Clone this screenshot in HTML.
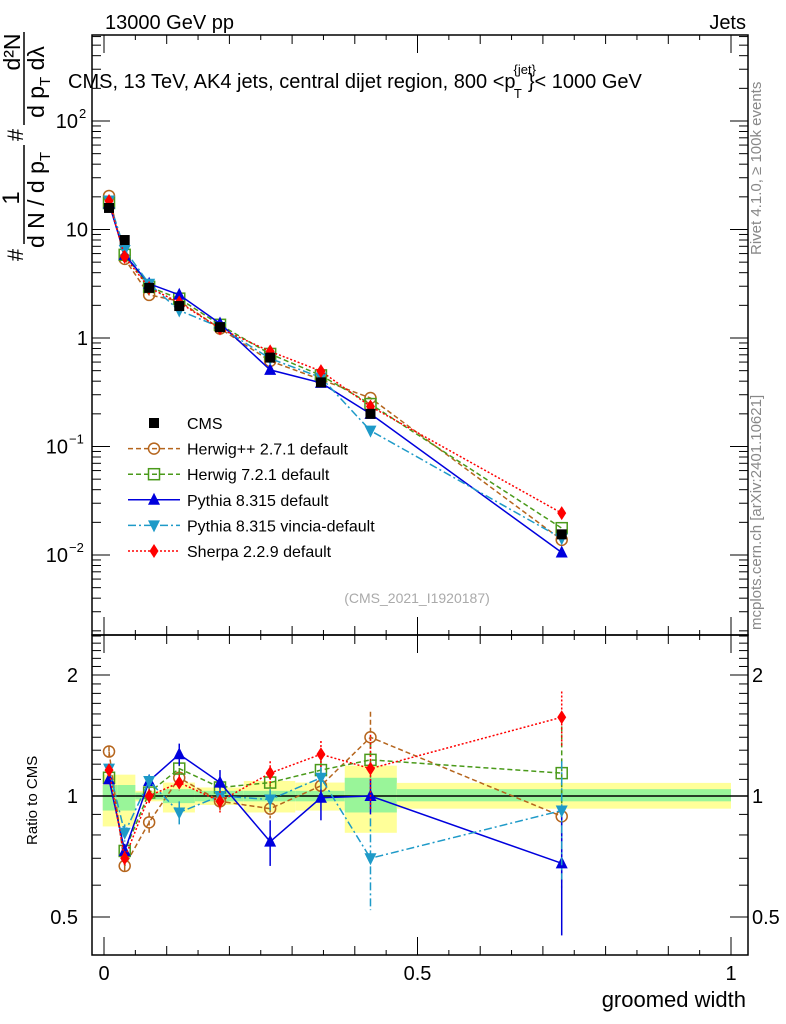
<!DOCTYPE html>
<html><head><meta charset="utf-8">
<style>
html,body{margin:0;padding:0;background:#fff;}
svg{display:block;font-family:"Liberation Sans","DejaVu Sans",sans-serif;}
</style></head>
<body>
<svg id="chart" width="786" height="1024" viewBox="0 0 786 1024" xmlns="http://www.w3.org/2000/svg">
<text x="105" y="29" font-size="20">13000 GeV pp</text>
<text x="746" y="29" font-size="20" text-anchor="end">Jets</text>
<text x="68" y="88" font-size="20">CMS, 13 TeV, AK4 jets, central dijet region, 800 &lt;p<tspan font-size="13" dy="-14" dx="-2">{jet}</tspan><tspan font-size="13" dy="24" dx="-22">T</tspan><tspan dy="-10" dx="6">}&lt; 1000 GeV</tspan></text>
<text transform="translate(761,255) rotate(-90)" font-size="15" fill="#888">Rivet 4.1.0, ≥ 100k events</text>
<text transform="translate(761,630) rotate(-90)" font-size="15" fill="#888">mcplots.cern.ch [arXiv:2401.10621]</text>
<text x="417" y="603" font-size="14" fill="#aaa" text-anchor="middle">(CMS_2021_I1920187)</text>
<g>
  <text transform="translate(23,255) rotate(-90)" font-size="22" text-anchor="middle">#</text>
  <text transform="translate(19,198) rotate(-90)" font-size="24" text-anchor="middle">1</text>
  <line x1="24" y1="145" x2="24" y2="244" stroke="#000" stroke-width="1.5"/>
  <text transform="translate(44,200) rotate(-90)" font-size="23" text-anchor="middle">d N / d p<tspan font-size="15" dy="6">T</tspan></text>
  <text transform="translate(23,135) rotate(-90)" font-size="22" text-anchor="middle">#</text>
  <line x1="24" y1="32" x2="24" y2="125" stroke="#000" stroke-width="1.5"/>
  <text transform="translate(20,52) rotate(-90)" font-size="23" text-anchor="middle">d²N</text>
  <text transform="translate(44,82) rotate(-90)" font-size="23" text-anchor="middle">d p<tspan font-size="15" dy="6">T</tspan><tspan dy="-6"> dλ</tspan></text>
</g>
<text transform="translate(37,845) rotate(-90)" font-size="15">Ratio to CMS</text>
<text x="746" y="1007" font-size="22" text-anchor="end">groomed width</text>
<g id="bands"></g>
<g id="upper"></g>
<g id="lower"></g>
<g id="axes"></g>
<g id="legend"></g>
</svg>
<script>
const xVals = [0.008, 0.033, 0.072, 0.12, 0.185, 0.265, 0.346, 0.425, 0.73];
const binLo = [-0.002, 0.022, 0.05, 0.094, 0.145, 0.223, 0.305, 0.384, 0.467];
const binHi = [0.022, 0.05, 0.094, 0.145, 0.223, 0.305, 0.384, 0.467, 1.0];
const cmsVals = [15.8, 8.0, 2.9, 1.97, 1.26, 0.66, 0.39, 0.20, 0.0155];
const yelUp = [0.13, 0.13, 0.03, 0.08, 0.05, 0.09, 0.08, 0.19, 0.078];
const yelDn = [0.16, 0.16, 0.03, 0.09, 0.05, 0.09, 0.08, 0.19, 0.07];
const grnUp = [0.065, 0.065, 0.02, 0.04, 0.03, 0.03, 0.03, 0.11, 0.04];
const grnDn = [0.08, 0.08, 0.02, 0.04, 0.03, 0.03, 0.03, 0.09, 0.03];
const herwigppRatio = [1.29, 0.67, 0.86, 1.11, 0.97, 0.93, 1.06, 1.40, 0.89];
const herwigppErr = [0.04, 0.03, 0.05, 0.05, 0.05, 0.05, 0.08, 0.22, 0.3];
const herwig7Ratio = [1.11, 0.73, 1.02, 1.17, 1.05, 1.08, 1.16, 1.23, 1.14];
const herwig7Err = [0.03, 0.03, 0.04, 0.05, 0.04, 0.05, 0.07, 0.12, 0.35];
const pythiaRatio = [1.10, 0.73, 1.09, 1.27, 1.08, 0.77, 0.99, 1.0, 0.68];
const pythiaErr = [0.03, 0.03, 0.04, 0.08, 0.08, 0.1, 0.12, 0.1, 0.23];
const vinciaRatio = [1.17, 0.81, 1.09, 0.91, 1.0, 0.98, 1.11, 0.70, 0.92];
const vinciaErr = [0.03, 0.04, 0.04, 0.06, 0.04, 0.06, 0.08, 0.18, 0.3];
const sherpaRatio = [1.16, 0.70, 1.0, 1.08, 0.97, 1.14, 1.27, 1.17, 1.57];
const sherpaErr = [0.03, 0.03, 0.04, 0.05, 0.06, 0.08, 0.1, 0.25, 0.25];
const seriesNames = ["Herwig++ 2.7.1 default","Herwig 7.2.1 default","Pythia 8.315 default","Pythia 8.315 vincia-default","Sherpa 2.2.9 default"];

const NS="http://www.w3.org/2000/svg";
const X0=92,X1=748,UT=35,UB=635,LB=955;
const xs=v=>104+627*v;
const yu=v=>121+108.5*(2-Math.log10(v));
const yl=r=>796-402*Math.log10(r);
function mk(tag,attrs,parent){const e=document.createElementNS(NS,tag);for(const k in attrs)e.setAttribute(k,attrs[k]);parent.appendChild(e);return e;}
const bands=document.getElementById('bands'),upper=document.getElementById('upper'),lower=document.getElementById('lower'),axes=document.getElementById('axes'),legend=document.getElementById('legend');

for(let i=0;i<binLo.length;i++){
  const y=mk('rect',{x:xs(binLo[i]),width:xs(binHi[i])-xs(binLo[i]),y:yl(1+yelUp[i]),height:yl(1-yelDn[i])-yl(1+yelUp[i]),fill:'#ffff99'},bands);
  
  
  const g=mk('rect',{x:xs(binLo[i]),width:xs(binHi[i])-xs(binLo[i]),y:yl(1+grnUp[i]),height:yl(1-grnDn[i])-yl(1+grnUp[i]),fill:'#99f599'},bands);
  
  
}
const one=mk('line',{x1:X0,x2:X1,y1:yl(1),y2:yl(1),stroke:'#000','stroke-width':1.5},bands);



function marker(kind,cx,cy,color,parent){
  let e;
  if(kind==='circle') e=mk('circle',{cx,cy,r:5.5,fill:'none',stroke:color,'stroke-width':1.5},parent);
  else if(kind==='osq') e=mk('rect',{x:cx-5.5,y:cy-5.5,width:11,height:11,fill:'none',stroke:color,'stroke-width':1.5},parent);
  else if(kind==='sq') e=mk('rect',{x:cx-5,y:cy-5,width:10,height:10,fill:color},parent);
  else if(kind==='tri') e=mk('polygon',{points:`${cx},${cy-7} ${cx-6},${cy+5} ${cx+6},${cy+5}`,fill:color},parent);
  else if(kind==='itri') e=mk('polygon',{points:`${cx},${cy+7} ${cx-6},${cy-5} ${cx+6},${cy-5}`,fill:color},parent);
  else e=mk('polygon',{points:`${cx},${cy-7} ${cx-4.5},${cy} ${cx},${cy+7} ${cx+4.5},${cy}`,fill:color},parent);
  return e;
}
const styles=[
 {c:'#b5651d',d:'5,3',m:'circle',r:herwigppRatio,e:herwigppErr,n:'herwigpp'},
 {c:'#4a9a1a',d:'5,3',m:'osq',r:herwig7Ratio,e:herwig7Err,n:'herwig7'},
 {c:'#0000dd',d:'',m:'tri',r:pythiaRatio,e:pythiaErr,n:'pythia'},
 {c:'#1e9ac8',d:'8,3,2,3',m:'itri',r:vinciaRatio,e:vinciaErr,n:'vincia'},
 {c:'#ff0000',d:'2,2',m:'dia',r:sherpaRatio,e:sherpaErr,n:'sherpa'}];

styles.forEach(s=>{
  const up=xVals.map((x,i)=>`${xs(x)},${yu(cmsVals[i]*s.r[i])}`).join(' ');
  const l1=mk('polyline',{points:up,fill:'none',stroke:s.c,'stroke-width':1.5,'stroke-dasharray':s.d},upper);
  
  
  const lo=xVals.map((x,i)=>`${xs(x)},${yl(s.r[i])}`).join(' ');
  const l2=mk('polyline',{points:lo,fill:'none',stroke:s.c,'stroke-width':1.5,'stroke-dasharray':s.d},lower);
  
  
  xVals.forEach((x,i)=>{
    const cx=xs(x);
    const eb=mk('line',{x1:cx,x2:cx,y1:yl(s.r[i]+s.e[i]),y2:yl(Math.max(0.3,s.r[i]-s.e[i])),stroke:s.c,'stroke-width':1.5,'stroke-dasharray':s.d},lower);
    
    
    const m2=marker(s.m,cx,yl(s.r[i]),s.c,lower);
    
    
    const m1=marker(s.m,cx,yu(cmsVals[i]*s.r[i]),s.c,upper);
    
    
  });
});
xVals.forEach((x,i)=>{
  const m=marker('sq',xs(x),yu(cmsVals[i]),'#000',upper);
  
  
});
function L(x1,y1,x2,y2,w){return mk('line',{x1,y1,x2,y2,stroke:'#000','stroke-width':w||1},axes);}
const f1=mk('rect',{x:X0,y:UT,width:X1-X0,height:UB-UT,fill:'none',stroke:'#000','stroke-width':1.5},axes);


const f2=mk('rect',{x:X0,y:UB,width:X1-X0,height:LB-UB,fill:'none',stroke:'#000','stroke-width':1.5},axes);


for(let k=0;k<=20;k++){
  const v=k*0.05,x=xs(v);
  const len=k%10===0?18:(k%2===0?9:5);
  L(x,UB,x,UB-len);L(x,UT,x,UT+len);L(x,LB,x,LB-len);L(x,UB,x,UB+len);
}
[['0',0],['0.5',0.5],['1',1]].forEach(([t,v])=>{
  const e=mk('text',{x:xs(v),y:980,'font-size':20,'text-anchor':'middle'},axes);e.textContent=t;
  
  
});
for(let d=-3;d<=2;d++){
  for(let m=1;m<=9;m++){
    const v=m*Math.pow(10,d),y=yu(v);
    if(y<UT||y>UB)continue;
    const len=m===1?18:9;
    L(X0,y,X0+len,y);L(X1,y,X1-len,y);
  }
}
const ylab=[['10',2],['10',1],['1',0],['10',-1],['10',-2]];
ylab.forEach(([t,d])=>{
  const e=mk('text',{x:d===1||d===0?88:(d===2?78:68),y:yu(Math.pow(10,d))+7,'font-size':20,'text-anchor':'end'},axes);
  e.textContent=t;
  
  
  if(d===2||d<0){const s=mk('text',{x:d===2?79:69,y:yu(Math.pow(10,d))-3,'font-size':13},axes);s.textContent=d===2?'2':String(d).replace('-','−');}
});
for(let k=4;k<=25;k++){
  const r=k/10,y=yl(r);
  if(y<UB||y>LB)continue;
  const len=(k===5||k===10||k===20)?18:9;
  L(X0,y,X0+len,y);L(X1,y,X1-len,y);
}
[['2',2],['1',1],['0.5',0.5]].forEach(([t,v])=>{
  const a=mk('text',{x:78,y:yl(v)+7,'font-size':20,'text-anchor':'end'},axes);a.textContent=t;
  
  
  const b=mk('text',{x:752,y:yl(v)+7,'font-size':20},axes);b.textContent=t;
  
  
});
const lg=[{n:'CMS',m:'sq',c:'#000',d:null}].concat(styles.map((s,i)=>({n:seriesNames[i],m:s.m,c:s.c,d:s.d})));
lg.forEach((e,i)=>{
  const y=423+i*25.6;
  const g=mk('g',{},legend);
  
  
  if(e.d!==null) mk('line',{x1:128,x2:180,y1:y,y2:y,stroke:e.c,'stroke-width':1.5,'stroke-dasharray':e.d},g);
  marker(e.m,154,y,e.c,g);
  const t=mk('text',{x:187,y:y+6,'font-size':16},g);t.textContent=e.n;
});
</script>
</body></html>
